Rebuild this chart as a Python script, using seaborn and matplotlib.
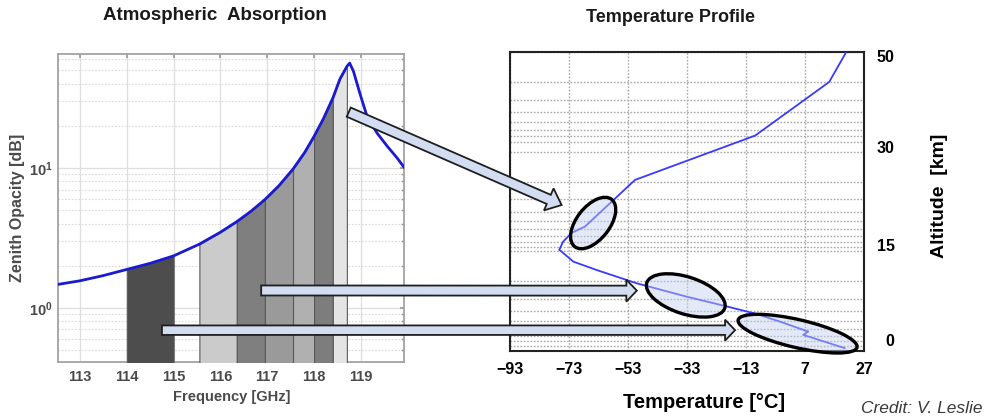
import numpy as np
import matplotlib
matplotlib.use('Agg')
import matplotlib.pyplot as plt
import seaborn as sns
from matplotlib.patches import FancyArrow, Ellipse
from matplotlib.ticker import LogLocator, NullFormatter, FuncFormatter

# ---------------- data ----------------
freq = [112.53, 113.0, 113.5, 114.0, 114.5, 115.0, 115.55, 116.0, 116.35, 116.65,
        116.95, 117.25, 117.55, 117.8, 118.0, 118.2, 118.4, 118.55, 118.7, 118.76,
        118.84, 118.99, 119.13, 119.34, 119.56, 119.77, 119.93]
opacity = [1.47, 1.56, 1.70, 1.88, 2.08, 2.35, 2.85, 3.47, 4.13, 4.89,
           5.94, 7.46, 9.8, 12.9, 16.8, 22.5, 31.5, 43.0, 53.0, 56.0,
           49.0, 33.0, 23.4, 17.8, 14.3, 11.8, 10.0]
freq_ticks = [113, 114, 115, 116, 117, 118, 119]

band_lo = [114.0, 115.55, 116.35, 116.95, 117.55, 118.0, 118.4]
band_hi = [115.0, 116.35, 116.95, 117.55, 118.0, 118.4, 118.7]
band_colors = ['#4d4d4d', '#cbcbcb', '#7f7f7f', '#9a9a9a', '#b0b0b0', '#7d7d7d', '#e4e4e4']

temp = [21.0, 15.2, -9.9, -50.6, -58.5, -67.6, -69.3, -72.1, -75.0, -76.3, -75.5,
        -71.5, -63.6, -53.4, -50.1, -33.1, -20.7, -9.4, -1.5, 8.1, 6.4, 20.5]
pres = [1.0, 2.0, 6.9, 19.2, 31.7, 56.5, 59.6, 65.4, 80, 96.8, 100.7,
        127, 154, 194, 209, 285, 350, 425, 507, 638, 689, 937]
temp_ticks = [-93, -73, -53, -33, -13, 7, 27]
alt_labels = ['50', '30', '15', '0']
alt_pressure = [1.1, 9.0, 87, 775]

# highlighted regions of the profile (centre in T / p; size in pixels)
ell_T = [-64.8, -33.4, 4.5]
ell_p = [52, 277, 670]
ell_w = [60, 82, 122]
ell_h = [33, 37, 28]
ell_angle = [52, -18, -13]

# arrows: from (freq, opacity) of left chart to (temp, pressure) of right chart
arr_src_f = [118.74, 116.87, 114.75]
arr_src_o = [25.0, 1.33, 0.692]
arr_dst_T = [-75.5, -50.0, -16.7]
arr_dst_p = [34.3, 248, 618]
arr_w = [0.10, 0.10, 0.095]
arr_hw = [0.24, 0.22, 0.21]
arr_hl = [0.14, 0.105, 0.10]

# ---------------- style ----------------
sns.set_theme(style='white')
plt.rcParams['font.family'] = ['Liberation Sans', 'DejaVu Sans']
plt.rcParams['mathtext.fontset'] = 'custom'
plt.rcParams['mathtext.rm'] = 'Liberation Sans'
plt.rcParams['mathtext.bf'] = 'Liberation Sans:bold'

fig = plt.figure(figsize=(9.98, 4.19), dpi=100)
axL = fig.add_axes([0.0581, 0.136, 0.3467, 0.735])
axR = fig.add_axes([0.511, 0.1623, 0.3547, 0.7136])

# ---------------- left: absorption ----------------
f = np.array(freq)
o = np.array(opacity)
for lo, hi, c in zip(band_lo, band_hi, band_colors):
    m = (f >= lo - 1e-9) & (f <= hi + 1e-9)
    axL.fill_between(f[m], o[m], 0.2, facecolor=c, edgecolor='#5a5a5a', lw=0.8, zorder=3)
sns.lineplot(x=freq, y=opacity, ax=axL, color='#1a1ad0', lw=2.0, zorder=5)
axL.set_yscale('log')
axL.set_xlim(112.53, 119.92)
axL.set_ylim(0.41, 65)
axL.set_xticks(freq_ticks)
axL.set_yticks([1, 10])
axL.yaxis.set_major_formatter(FuncFormatter(lambda v, pos: r'$\mathbf{10^{%d}}$' % round(np.log10(v))))
axL.yaxis.set_minor_locator(LogLocator(base=10, subs=np.arange(2, 10), numticks=50))
axL.yaxis.set_minor_formatter(NullFormatter())
axL.set_axisbelow(True)
axL.grid(True, which='major', color='#dedede', lw=0.9, ls='-')
axL.grid(True, which='minor', axis='y', color='#dadada', lw=0.8, ls=(0, (1.5, 1.5)))
axL.tick_params(axis='both', which='both', direction='in', top=True, right=True,
                color='#9a9a9a', labelcolor='#4a4a4a', labelsize=10.5)
axL.tick_params(axis='both', which='major', length=3)
axL.tick_params(axis='y', which='minor', length=2)
axL.tick_params(axis='x', pad=6)
axL.tick_params(axis='y', pad=4)
for lab in axL.get_xticklabels() + axL.get_yticklabels():
    lab.set_fontweight('bold')
for s in axL.spines.values():
    s.set_color('#a3a3a3')
    s.set_linewidth(1.3)
axL.set_xlabel('Frequency [GHz]', fontsize=10.5, fontweight='bold', color='#4a4a4a')
axL.xaxis.set_label_coords(0.503, -0.1136)
axL.xaxis.label.set_va('center')
axL.set_ylabel('Zenith Opacity [dB]', fontsize=11.5, fontweight='bold', color='#4a4a4a')
axL.yaxis.set_label_coords(-0.118, 0.5)
axL.yaxis.label.set_va('center')
axL.yaxis.label.set_ha('center')

# ---------------- right: temperature profile ----------------
sns.lineplot(x=temp, y=pres, ax=axR, sort=False, estimator=None, color='#3a3aff', lw=1.3, zorder=4)
axR.set_yscale('log')
axR.set_xlim(-93, 27)
axR.set_ylim(1000, 1)
axR.set_xticks(temp_ticks)
axR.yaxis.tick_right()
axR.set_yticks(alt_pressure, alt_labels)
axR.yaxis.set_minor_locator(LogLocator(base=10, subs=np.arange(1, 10), numticks=50))
axR.yaxis.set_minor_formatter(NullFormatter())
axR.set_axisbelow(True)
axR.grid(True, which='major', axis='x', ls=(0, (1.2, 1.2)), color='#a8a8a8', lw=1.0)
axR.grid(False, which='major', axis='y')
axR.grid(True, which='minor', axis='y', ls=(0, (1.2, 1.2)), color='#a8a8a8', lw=1.0)
axR.tick_params(axis='both', which='both', length=0, labelsize=11.5, labelcolor='black')
axR.tick_params(axis='x', pad=8)
axR.tick_params(axis='y', pad=22)
for lab in axR.get_xticklabels() + axR.get_yticklabels():
    lab.set_fontweight('bold')
for lab in axR.get_yticklabels():
    lab.set_ha('right')
for s in axR.spines.values():
    s.set_color('#222222')
    s.set_linewidth(1.5)
axR.set_xlabel('Temperature [°C]', fontsize=14.5, fontweight='bold', color='black')
axR.xaxis.set_label_coords(0.548, -0.1706)
axR.xaxis.label.set_va('center')
axR.yaxis.set_label_position('right')
axR.set_ylabel('Altitude  [km]', fontsize=14, fontweight='bold', color='black', rotation=90)
axR.yaxis.set_label_coords(1.2147, 0.518)
axR.yaxis.label.set_va('center')
axR.yaxis.label.set_ha('center')

# ---------------- titles & credit ----------------
fig.text(215 / 998, 1 - 15 / 419, 'Atmospheric  Absorption', ha='center', va='center',
         fontsize=13.5, fontweight='bold', color='#1a1a1a')
fig.text(670 / 998, 1 - 17 / 419, 'Temperature Profile', ha='center', va='center',
         fontsize=13, fontweight='bold', color='#1a1a1a')
fig.text(922 / 998, 1 - 408 / 419, 'Credit: V. Leslie', ha='center', va='center',
         fontsize=12.5, style='italic', color='#3a3a3a')

# ---------------- ellipses & arrows ----------------
to_in = fig.dpi_scale_trans.inverted()
for T, p, w, h, a in zip(ell_T, ell_p, ell_w, ell_h, ell_angle):
    cx, cy = to_in.transform(axR.transData.transform((T, p)))
    e = Ellipse((cx, cy), w / 100, h / 100, angle=a, transform=fig.dpi_scale_trans,
                facecolor=(0.76, 0.81, 0.93, 0.45), edgecolor='black', lw=2.4, zorder=9)
    fig.add_artist(e)

for sf, so, dT, dp, w, hw, hl in zip(arr_src_f, arr_src_o, arr_dst_T, arr_dst_p, arr_w, arr_hw, arr_hl):
    x0, y0 = to_in.transform(axL.transData.transform((sf, so)))
    x1, y1 = to_in.transform(axR.transData.transform((dT, dp)))
    arr = FancyArrow(x0, y0, x1 - x0, y1 - y0, width=w, head_width=hw, head_length=hl,
                     length_includes_head=True, transform=fig.dpi_scale_trans,
                     facecolor='#d3ddf2', edgecolor='#1e1e1e', lw=1.3, zorder=10)
    fig.add_artist(arr)

fig.savefig('out.png', dpi=100)
